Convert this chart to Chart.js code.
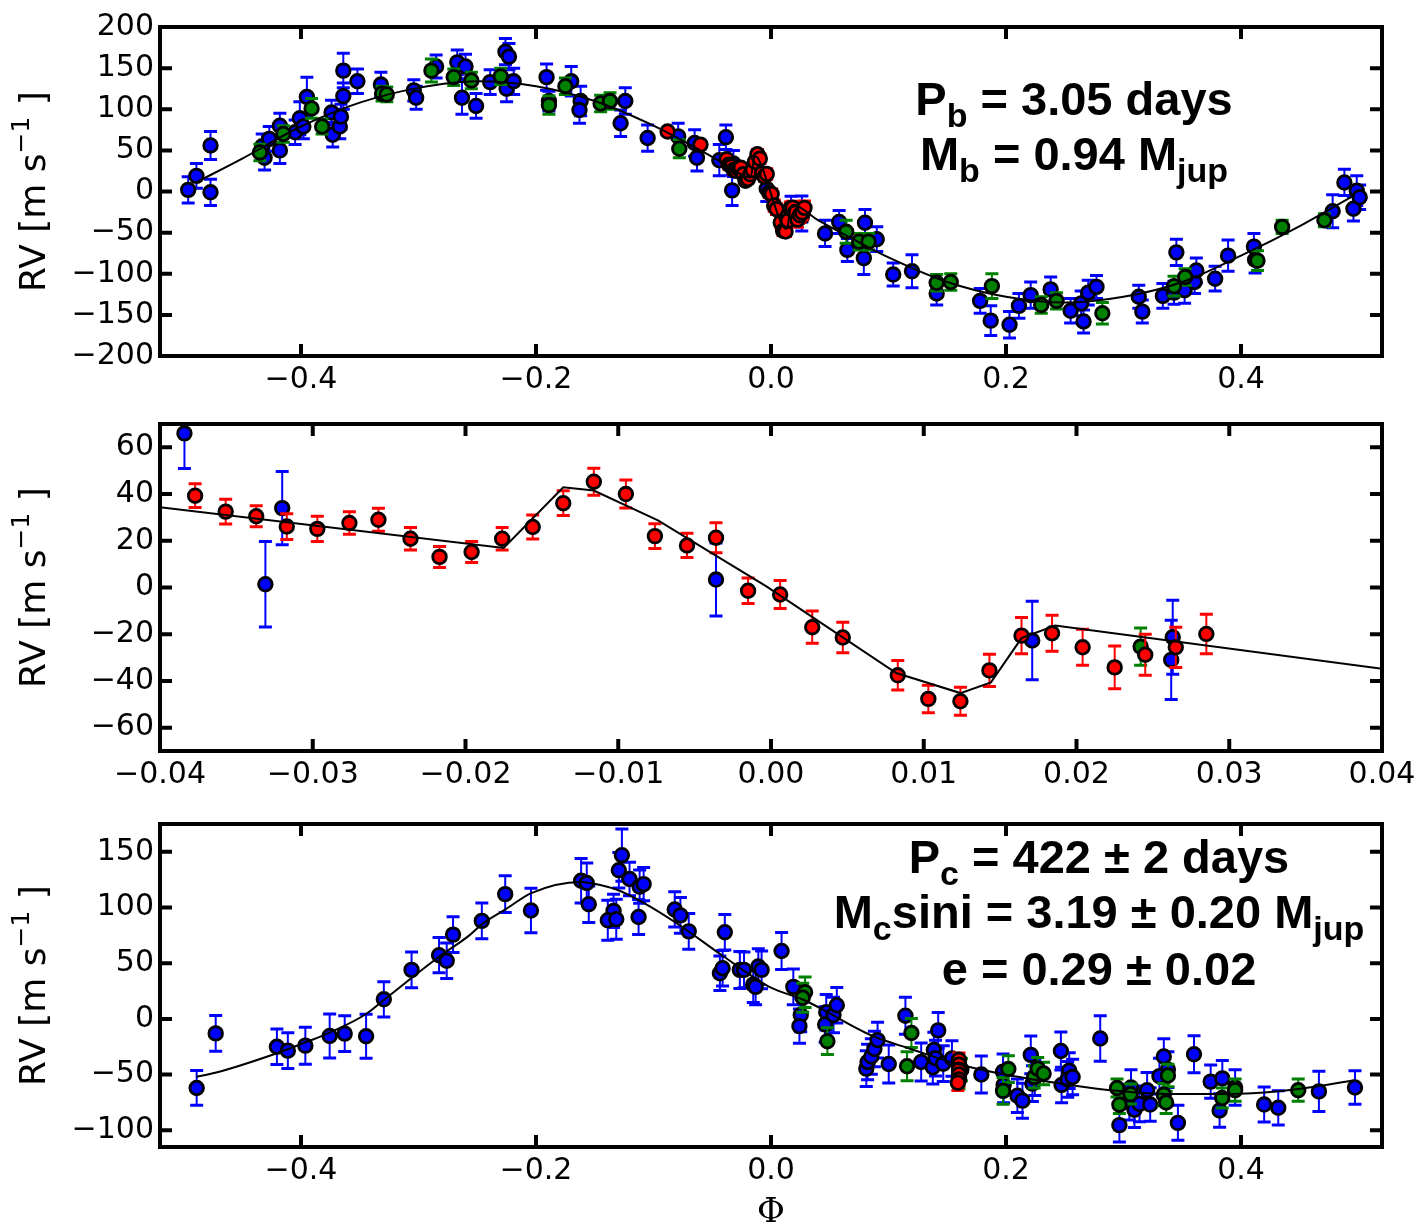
<!DOCTYPE html>
<html>
<head>
<meta charset="utf-8">
<script src="https://cdn.jsdelivr.net/npm/chart.js@4.4.1/dist/chart.umd.min.js"></script>
<style>
  body { margin: 0; background: #fff; }
  #wrap { position: relative; width: 1425px; height: 1230px; }
  canvas { position: absolute; left: 0; }
</style>
</head>
<body>
<div id="wrap">
  <canvas id="p1" width="1425" height="400" style="top:0px"></canvas>
  <canvas id="p2" width="1425" height="400" style="top:400px"></canvas>
  <canvas id="p3" width="1425" height="430" style="top:800px"></canvas>
</div>
<script>
// --------------------------------
// || Data  ([phase, RV, error])
// --------------------------------

// transit window, shared by panel 1 and panel 2
const transitRed = [
    [-0.0377, 39.3, 5.1], [-0.0357, 32.5, 5.3], [-0.0337, 30.5, 4.5], [-0.0317, 26.1, 5.5],
    [-0.0297, 25.1, 5.4], [-0.0276, 27.6, 4.8], [-0.0257, 29.0, 4.9], [-0.0236, 20.9, 4.8],
    [-0.0217, 13.1, 4.5], [-0.0196, 15.2, 4.5], [-0.0176, 20.9, 4.8], [-0.0156, 25.9, 5.1],
    [-0.0136, 36.1, 5.3], [-0.0116, 45.3, 5.8], [-0.0095, 40.0, 6.0], [-0.0076, 22.0, 5.3],
    [-0.0055, 18.0, 5.2], [-0.0036, 21.3, 6.4], [-0.0015, -1.4, 5.5], [0.0006, -3.0, 6.0],
    [0.0027, -17.0, 6.9], [0.0047, -21.4, 6.5], [0.0083, -37.6, 6.3], [0.0103, -47.7, 5.9],
    [0.0124, -48.7, 6.0], [0.0143, -35.5, 6.9], [0.0164, -20.6, 7.8], [0.0184, -19.6, 7.7],
    [0.0204, -25.6, 7.7], [0.0225, -34.2, 9.2], [0.0245, -28.8, 8.8], [0.0265, -25.6, 8.6],
    [0.0285, -19.9, 8.5]
];
const transitBlue = [
    [-0.0384, 66.0, 15.0], [-0.0331, 1.4, 18.3], [-0.0320, 34.0, 15.7], [-0.0036, 3.4, 15.6],
    [0.0171, -22.7, 16.8], [0.0263, -21.3, 15.8], [0.0262, -31.0, 17.0]
];
const transitGreen = [[0.0242, -25.3, 8.0]];

// panel 1, planet b, outside the transit window
const bBlue = [
    [-0.496, 2, 16], [-0.489, 19, 15], [-0.477, 56, 17], [-0.477, -1, 16], [-0.433, 55, 15],
    [-0.431, 41, 15], [-0.427, 64, 15], [-0.418, 80, 15], [-0.418, 50, 16], [-0.405, 72, 15],
    [-0.401, 89, 20], [-0.398, 79, 15], [-0.395, 115, 24], [-0.374, 96, 15], [-0.373, 69, 15],
    [-0.367, 79, 15], [-0.366, 91, 15], [-0.364, 116, 16], [-0.364, 147, 21], [-0.352, 134, 15],
    [-0.332, 130, 15], [-0.304, 123, 13], [-0.302, 114, 14], [-0.285, 152, 14], [-0.267, 157, 15],
    [-0.263, 114, 20], [-0.260, 152, 15], [-0.251, 104, 15], [-0.239, 133, 15], [-0.226, 170, 16],
    [-0.223, 164, 16], [-0.225, 125, 16], [-0.219, 134, 16], [-0.191, 139, 16], [-0.189, 110, 12],
    [-0.170, 134, 18], [-0.162, 110, 18], [-0.163, 99, 16], [-0.124, 110, 16], [-0.128, 83, 16],
    [-0.105, 65, 16], [-0.079, 67, 16], [-0.065, 59, 16], [-0.063, 41, 16], [-0.044, 38, 19],
    [0.046, -51, 16], [0.058, -37, 14], [0.065, -71, 14], [0.080, -38, 16], [0.079, -81, 20],
    [0.090, -58, 15], [0.104, -101, 14], [0.120, -97, 20], [0.141, -124, 14], [0.178, -133, 15],
    [0.187, -157, 18], [0.203, -162, 16], [0.211, -139, 15], [0.221, -126, 16], [0.238, -119, 15],
    [0.255, -145, 15], [0.264, -136, 15], [0.266, -158, 14], [0.270, -123, 15], [0.277, -116, 14],
    [0.313, -128, 14], [0.316, -146, 14], [0.3335, -127, 15], [0.343, -123, 14], [0.345, -74, 16],
    [0.352, -120, 16], [0.3605, -110, 14], [0.362, -96, 15], [0.378, -106, 15], [0.389, -78, 19],
    [0.411, -67, 16], [0.412, -83, 16], [0.478, -24, 20], [0.488, 11, 16], [0.4985, 1, 18],
    [0.4957, -21, 15], [0.501, -7, 15]
];
const bGreen = [
    [-0.435, 47.5, 10], [-0.415, 70, 10], [-0.391, 101, 12], [-0.382, 79, 9], [-0.331, 119, 9],
    [-0.327, 118, 9], [-0.289, 147, 14], [-0.270, 139, 10], [-0.255, 135, 10], [-0.230, 140, 10],
    [-0.189, 105, 11], [-0.175, 128, 10], [-0.145, 107, 10], [-0.137, 110, 10], [-0.078, 52, 11],
    [0.064, -49, 14], [0.075, -61, 10], [0.083, -61, 10], [0.141, -111, 10], [0.153, -110, 10],
    [0.188, -115, 15], [0.230, -138, 10], [0.243, -133, 10], [0.282, -148, 13], [0.343, -115, 12],
    [0.3525, -104, 10], [0.414, -84, 12], [0.435, -43, 8], [0.471, -35, 8]
];
const bRed = [[-0.088, 73, 4], [-0.060, 57, 4]];

// model curves
const bModel = [
    [-0.488, 12], [-0.45, 40], [-0.40, 79], [-0.35, 108], [-0.30, 126], [-0.25, 134],
    [-0.20, 128], [-0.15, 110], [-0.10, 80], [-0.06, 50], [-0.04, 34], [-0.0175, 17],
    [-0.0136, 43], [-0.0116, 41.5], [-0.0074, 28.7], [0.0082, -36.6], [0.0124, -45.2],
    [0.0144, -40.6], [0.0164, -21.7], [0.0186, -16.3], [0.04, -34.8], [0.07, -58], [0.10, -80],
    [0.15, -110], [0.20, -128], [0.25, -135], [0.30, -128], [0.35, -110], [0.40, -78],
    [0.45, -42], [0.497, -4]
];
const transitModel = [
    [-0.04, 34.4], [-0.0175, 16.9], [-0.0136, 42.9], [-0.0116, 41.5], [-0.0074, 28.7],
    [-0.0003, 0.5], [0.0082, -36.6], [0.0124, -45.2], [0.0144, -40.6], [0.0164, -21.7],
    [0.0186, -16.3], [0.04, -34.8]
];

// panel 3, planet c
const cBlue = [
    [-0.4888, -62, 15.6], [-0.4726, -13, 16], [-0.4205, -25, 16], [-0.4112, -28.5, 16],
    [-0.3963, -24, 16.6], [-0.3756, -15.3, 19.8], [-0.3628, -13.2, 16], [-0.3446, -15.6, 19.8],
    [-0.3295, 17.6, 15.8], [-0.3059, 44, 16], [-0.2825, 57.2, 15.8], [-0.276, 52.2, 16],
    [-0.2706, 75.7, 16], [-0.2461, 88, 16], [-0.2262, 112, 16.5], [-0.2043, 97.4, 20],
    [-0.1616, 124, 20], [-0.1568, 122, 18], [-0.1551, 103, 16.4], [-0.1269, 147, 23.5],
    [-0.1295, 133.5, 16], [-0.1204, 125.6, 15], [-0.1118, 118.8, 15], [-0.1084, 121, 15],
    [-0.134, 97, 15], [-0.1389, 88.6, 18], [-0.1317, 89.5, 18], [-0.1127, 91.5, 15.7],
    [-0.0819, 98.3, 15.8], [-0.0771, 93, 16], [-0.070, 78.6, 16], [-0.0393, 77.8, 16],
    [-0.0435, 41, 15.4], [-0.0412, 45.5, 16], [-0.0265, 44, 16.6], [-0.023, 44, 16],
    [-0.0151, 30.8, 16], [-0.0131, 28.8, 16], [-0.0108, 47, 16], [-0.008, 44, 17],
    [0.009, 61, 16.6], [0.019, 28.8, 16], [0.0253, 3.5, 15], [0.0242, -6.5, 15.4],
    [0.047, 6, 16], [0.0461, -5, 16], [0.0532, 3.5, 16], [0.056, 12.3, 16],
    [0.0811, -44.6, 16], [0.0822, -38.7, 16], [0.0854, -33.7, 16], [0.088, -27, 16],
    [0.0907, -19, 16], [0.1002, -40.5, 17], [0.1144, 2.9, 16.6], [0.1278, -38.7, 17],
    [0.1386, -27.9, 16], [0.1423, -10.3, 16], [0.1377, -43.4, 15], [0.14, -35.2, 16],
    [0.1466, -40.2, 16], [0.154, -35.5, 16], [0.179, -49.9, 16.6], [0.1975, -47.5, 16],
    [0.198, -59.3, 16], [0.2097, -69, 15], [0.214, -73.4, 15.7], [0.2211, -32.3, 17],
    [0.2225, -58.1, 16], [0.2245, -52.8, 16], [0.2467, -28.8, 17], [0.2473, -59.3, 16],
    [0.2538, -46.4, 16], [0.2525, -54.3, 16], [0.2567, -52.2, 16], [0.2802, -17.6, 20.5],
    [0.2965, -95.4, 15], [0.3064, -61.6, 16], [0.305, -74.8, 16], [0.3093, -81.6, 16],
    [0.3136, -76.3, 16], [0.3201, -64, 16], [0.3227, -76.9, 15], [0.3343, -33.7, 16],
    [0.3378, -45.5, 16], [0.3306, -51.4, 16], [0.3463, -93.3, 15.7], [0.36, -31.7, 16.6],
    [0.3742, -56.3, 15], [0.3841, -53.4, 16], [0.3818, -82.2, 15], [0.395, -61.6, 16],
    [0.4197, -76.9, 15.7], [0.4317, -79.8, 15.4], [0.4663, -65.1, 18], [0.497, -61.6, 15]
];
const cGreen = [
    [0.029, 24, 13.7], [0.027, 19, 13], [0.048, -20, 12], [0.1195, -12.6, 13], [0.1158, -42.5, 13],
    [0.162, -45.5, 10], [0.160, -52.8, 10], [0.202, -45, 12], [0.1975, -64.6, 12], [0.224, -52, 10],
    [0.227, -44.6, 10], [0.232, -49, 10], [0.2945, -62, 8], [0.2965, -77, 8], [0.306, -67.5, 9],
    [0.3378, -50.8, 10], [0.3343, -68, 10], [0.3363, -75, 10], [0.384, -71, 9], [0.395, -64, 10],
    [0.4487, -64, 10]
];
const cRed = [
    [0.160, -36.7, 6], [0.160, -41.1, 6], [0.160, -45.5, 6], [0.160, -49.9, 6], [0.160, -54.3, 6],
    [0.159, -57.2, 7]
];
const cModel = [
    [-0.489, -52], [-0.473, -48.4], [-0.4205, -30.8], [-0.396, -21], [-0.3755, -12.3],
    [-0.3446, 4.4], [-0.3295, 17], [-0.306, 36.7], [-0.2825, 55.8], [-0.257, 74.8],
    [-0.246, 85], [-0.226, 98.3], [-0.204, 113], [-0.162, 123], [-0.153, 121.8], [-0.131, 116],
    [-0.108, 104], [-0.079, 85], [-0.040, 55.8], [0.0, 28], [0.028, 17], [0.085, -14.7],
    [0.119, -27], [0.159, -40.5], [0.199, -49.9], [0.2544, -59.3], [0.2945, -64.6],
    [0.34, -67.5], [0.38, -67.5], [0.42, -66], [0.449, -63], [0.497, -55]
];

// axes
const phaseTicks = [-0.4, -0.2, 0.0, 0.2, 0.4];
const transitTicks = [-0.04, -0.03, -0.02, -0.01, 0.00, 0.01, 0.02, 0.03, 0.04];
const rvTicksB = [-200, -150, -100, -50, 0, 50, 100, 150, 200];
const rvTicksT = [-60, -40, -20, 0, 20, 40, 60];
const rvTicksC = [-100, -50, 0, 50, 100, 150];

const textB = [
    [['P', 0], ['b', 1], [' = 3.05 days', 0]],
    [['M', 0], ['b', 1], [' = 0.94 M', 0], ['jup', 1]]
];
const textC = [
    [['P', 0], ['c', 1], [' = 422 \u00b1 2 days', 0]],
    [['M', 0], ['c', 1], ['sini = 3.19 \u00b1 0.20 M', 0], ['jup', 1]],
    [['e = 0.29 \u00b1 0.02', 0]]
];

// --------------------------------
// || Plugins
// --------------------------------

const BLUE = '#0000ff';
const GREEN = '#008000';
const RED = '#ff0000';
const tickFont = { family: 'DejaVu Sans', size: 30 };

const minus = s => s.replace('-', '\u2212');

// error bars, drawn just before each dataset so they stack like matplotlib
const errorBars = {
    id: 'errorBars',
    beforeDatasetDraw(chart, args) {
        const ds = chart.data.datasets[args.index];
        if (!ds.err) return;
        const xs = chart.scales.x, ys = chart.scales.y, a = chart.chartArea;
        const ctx = chart.ctx;
        ctx.save();
        ctx.beginPath();
        ctx.rect(a.left, a.top, a.right - a.left, a.bottom - a.top);
        ctx.clip();
        ctx.strokeStyle = ds.pointBackgroundColor;
        ds.data.forEach((p, i) => {
            const px = xs.getPixelForValue(p.x);
            const y1 = ys.getPixelForValue(p.y + ds.err[i]);
            const y2 = ys.getPixelForValue(p.y - ds.err[i]);
            ctx.lineWidth = 2;
            ctx.beginPath();
            ctx.moveTo(px, y1);
            ctx.lineTo(px, y2);
            ctx.stroke();
            ctx.lineWidth = 3;
            ctx.beginPath();
            ctx.moveTo(px - 6.5, y1); ctx.lineTo(px + 6.5, y1);
            ctx.moveTo(px - 6.5, y2); ctx.lineTo(px + 6.5, y2);
            ctx.stroke();
        });
        ctx.restore();
    }
};

// box, inward ticks on all four sides, y title and text labels
const frame = {
    id: 'frame',
    afterDatasetsDraw(chart) {
        const ctx = chart.ctx, a = chart.chartArea;
        const xs = chart.scales.x, ys = chart.scales.y;
        const o = chart.options.plugins.frame;
        ctx.save();
        ctx.strokeStyle = '#000';
        ctx.lineWidth = 4;
        ctx.beginPath();
        xs.ticks.forEach(t => {
            const px = xs.getPixelForValue(t.value);
            ctx.moveTo(px, a.top); ctx.lineTo(px, a.top + 12);
            ctx.moveTo(px, a.bottom); ctx.lineTo(px, a.bottom - 12);
        });
        ys.ticks.forEach(t => {
            const py = ys.getPixelForValue(t.value);
            ctx.moveTo(a.left, py); ctx.lineTo(a.left + 12, py);
            ctx.moveTo(a.right, py); ctx.lineTo(a.right - 12, py);
        });
        ctx.stroke();
        ctx.strokeRect(a.left, a.top, a.right - a.left, a.bottom - a.top);

        // y title: RV [m s^-1 ]
        ctx.fillStyle = '#000';
        ctx.translate(36, (a.top + a.bottom) / 2);
        ctx.rotate(-Math.PI / 2);
        const big = '36px "DejaVu Sans"', small = '25px "DejaVu Sans"';
        const parts = [['RV [m s', big, 0], ['\u22121', small, -14], [' ]', big, 0]];
        let w = 0;
        parts.forEach(p => { ctx.font = p[1]; w += ctx.measureText(p[0]).width; });
        let x = -w / 2;
        ctx.textBaseline = 'middle';
        parts.forEach(p => {
            ctx.font = p[1];
            ctx.fillText(p[0], x, p[2]);
            x += ctx.measureText(p[0]).width;
        });
        ctx.restore();

        // annotation lines, bold with subscripts
        ctx.save();
        ctx.fillStyle = '#000';
        ctx.textBaseline = 'alphabetic';
        (o.lines || []).forEach((line, k) => {
            const bigF = 'bold 47px "Liberation Sans"', subF = 'bold 34px "Liberation Sans"';
            let tw = 0;
            line.forEach(p => { ctx.font = p[1] ? subF : bigF; tw += ctx.measureText(p[0]).width; });
            let lx = o.textX - tw / 2;
            line.forEach(p => {
                ctx.font = p[1] ? subF : bigF;
                ctx.fillText(p[0], lx, o.textY[k] + (p[1] ? 12 : 0));
                lx += ctx.measureText(p[0]).width;
            });
        });
        if (o.xTitle) {
            ctx.font = '34px "DejaVu Serif"';
            ctx.textAlign = 'center';
            ctx.textBaseline = 'middle';
            ctx.fillText(o.xTitle, (a.left + a.right) / 2, o.xTitleY);
        }
        ctx.restore();
    }
};

// --------------------------------
// || Charts
// --------------------------------

function pts(arr) {
    return arr.map(p => ({ x: p[0], y: p[1] }));
}

function series(arr, color) {
    return {
        data: pts(arr),
        err: arr.map(p => p[2]),
        pointRadius: 6.8,
        pointBackgroundColor: color,
        pointBorderColor: '#000',
        pointBorderWidth: 2.8,
        showLine: false
    };
}

function model(arr, smooth) {
    return {
        data: pts(arr),
        showLine: true,
        borderColor: '#000',
        borderWidth: 2,
        pointRadius: 0,
        cubicInterpolationMode: smooth ? 'monotone' : 'default',
        tension: 0
    };
}

function makePanel(id, cfg) {
    return new Chart(document.getElementById(id), {
        type: 'scatter',
        data: { datasets: cfg.datasets },
        options: {
            animation: false,
            responsive: false,
            events: [],
            layout: { padding: { left: 0, right: 43, top: cfg.padTop, bottom: 0 } },
            plugins: {
                legend: { display: false },
                tooltip: { enabled: false },
                frame: cfg.frame
            },
            scales: {
                x: {
                    type: 'linear',
                    min: cfg.xMin,
                    max: cfg.xMax,
                    afterBuildTicks: s => { s.ticks = cfg.xTicks.map(v => ({ value: v })); },
                    afterFit: s => { s.height = cfg.xHeight; },
                    grid: { display: false, drawTicks: false },
                    border: { display: false },
                    ticks: {
                        font: tickFont, color: '#000', padding: 6, maxRotation: 0,
                        callback: v => minus(v.toFixed(cfg.xDigits))
                    }
                },
                y: {
                    type: 'linear',
                    min: cfg.yMin,
                    max: cfg.yMax,
                    afterBuildTicks: s => { s.ticks = cfg.yTicks.map(v => ({ value: v })); },
                    afterFit: s => { s.width = 160; },
                    grid: { display: false, drawTicks: false },
                    border: { display: false },
                    ticks: {
                        font: tickFont, color: '#000', padding: 6,
                        callback: v => minus(String(v))
                    }
                }
            }
        },
        plugins: [errorBars, frame]
    });
}

// datasets listed top-most first (Chart.js draws the last one first)
makePanel('p1', {
    padTop: 27, xHeight: 44,
    xMin: -0.52, xMax: 0.52, xTicks: phaseTicks, xDigits: 1,
    yMin: -200, yMax: 200, yTicks: rvTicksB,
    frame: { lines: textB, textX: 1074, textY: [115, 170] },
    datasets: [
        model(bModel, true),
        series(bRed.concat(transitRed), RED),
        series(bGreen.concat(transitGreen), GREEN),
        series(bBlue.concat(transitBlue), BLUE)
    ]
});

makePanel('p2', {
    padTop: 21, xHeight: 49,
    xMin: -0.04, xMax: 0.04, xTicks: transitTicks, xDigits: 2,
    yMin: -70, yMax: 70, yTicks: rvTicksT,
    frame: { lines: [], textX: 0, textY: [] },
    datasets: [
        model(transitModel, false),
        series(transitRed, RED),
        series(transitGreen, GREEN),
        series(transitBlue, BLUE)
    ]
});

makePanel('p3', {
    padTop: 18, xHeight: 83,
    xMin: -0.52, xMax: 0.52, xTicks: phaseTicks, xDigits: 1,
    yMin: -115, yMax: 175, yTicks: rvTicksC,
    frame: { lines: textC, textX: 1099, textY: [73, 128, 185], xTitle: '\u03a6', xTitleY: 413 },
    datasets: [
        model(cModel, true),
        series(cRed, RED),
        series(cGreen, GREEN),
        series(cBlue, BLUE)
    ]
});
</script>
</body>
</html>
